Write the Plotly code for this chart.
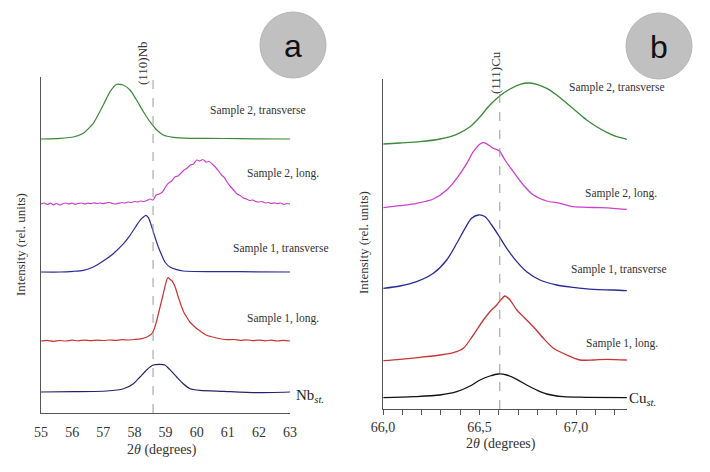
import plotly.graph_objects as go

# ---------------- Panel a : (110) Nb ----------------
a_labels = ["Sample 2, transverse", "Sample 2, long.", "Sample 1, transverse", "Sample 1, long.", "Nb<sub><i>st.</i></sub>"]
a_offsets = [274, 209, 141, 72, 21]

a_s2t_x = [55.0, 55.61, 56.04, 56.36, 56.68, 57.00, 57.22, 57.43, 57.64, 57.86, 58.07, 58.29, 58.50, 58.72, 58.93, 59.25, 59.79, 60.32, 61.39, 63.0]
a_s2t_y = [0, 0.7, 2, 5.7, 15.7, 34, 47.3, 54.7, 54, 49, 39, 27.3, 17.3, 9, 4, 1.7, 0.7, 0.7, 0.3, 0]

a_s2l_x = [55.0, 55.1, 55.2, 55.3, 55.4, 55.5, 55.6, 55.7, 55.8, 55.9, 56.0, 56.1, 56.2, 56.3, 56.4, 56.5, 56.6, 56.7, 56.8, 56.9,
           57.0, 57.1, 57.2, 57.3, 57.4, 57.5, 57.6, 57.7, 57.8, 57.9, 58.0, 58.1, 58.2, 58.3, 58.4, 58.5, 58.6, 58.7, 58.8, 58.9,
           59.0, 59.1, 59.2, 59.3, 59.4, 59.5, 59.6, 59.7, 59.8, 59.9, 60.0, 60.1, 60.2, 60.3, 60.4, 60.5, 60.6, 60.7, 60.8, 60.9,
           61.0, 61.1, 61.2, 61.3, 61.4, 61.5, 61.6, 61.7, 61.8, 61.9, 62.0, 62.1, 62.2, 62.3, 62.4, 62.5, 62.6, 62.7, 62.8, 62.9, 63.0]
a_s2l_y = [0, 1, -0.5, 0.8, -0.8, 0.5, -1, 0.3, 1, 0, 0.8, -0.3, 0.5, 1, 0, 0.8, 0.3, 1.2, 0.5, 1,
           0.3, 1.2, 1.5, 0.5, 0, 0.8, 1.5, 1, 2, 1.5, 2.5, 2, 3, 2.5, 3.5, 5, 4, 9, 10, 12,
           17, 21, 23, 27, 28, 31, 34, 36, 39, 40, 44, 43, 44.5, 42, 42.5, 40, 37, 33, 29, 26,
           21, 17, 13.5, 10, 8.5, 6, 5, 3.5, 4, 2.5, 2, 2.5, 1, 1.5, 0.5, 1.2, 0.3, 1, -0.5, 0.5, 0]

a_s1t_x = [55.0, 55.61, 56.04, 56.36, 56.68, 57.00, 57.32, 57.65, 57.86, 58.07, 58.18, 58.29, 58.37, 58.45, 58.56, 58.66, 58.77, 58.88, 58.98, 59.14, 59.36, 59.57, 60.32, 61.39, 63.0]
a_s1t_y = [0, 0, 0.7, 1.7, 5, 11, 18.3, 28.3, 36.7, 46.7, 51.7, 55, 56.7, 54.3, 45, 35, 25, 16.7, 10, 5, 2.3, 1, 0.3, 0.3, 0]

a_s1l_x = [55.0, 55.2, 55.4, 55.6, 55.8, 56.0, 56.2, 56.4, 56.6, 56.8, 57.0, 57.2, 57.4, 57.6, 57.8, 58.0, 58.2, 58.4, 58.56, 58.66,
           58.77, 58.88, 58.98, 59.05, 59.09, 59.15, 59.2, 59.31, 59.41, 59.52, 59.6, 59.68, 59.78, 59.89, 60.0, 60.11, 60.2, 60.32, 60.45, 60.64,
           60.8, 60.96, 61.2, 61.4, 61.6, 61.8, 62.0, 62.2, 62.4, 62.6, 62.8, 63.0]
a_s1l_y = [0, 0.7, -0.3, 0.5, 0, 0.8, 0.2, 0.9, 0.3, 0.8, 0.5, 1, 0.6, 1.3, 1, 1.5, 2.2, 4, 7.3, 14,
           27, 41, 54, 62, 63.3, 61.5, 60.5, 54, 44, 34, 28, 24, 19, 15.7, 12.5, 10, 8, 5.7, 4.5, 3,
           2, 1.3, 1.5, 0.7, 1.2, 0.3, 0.9, 0.2, 0.8, 0, 0.6, 0]

a_std_x = [55.0, 56.04, 57.11, 57.65, 57.97, 58.18, 58.40, 58.61, 58.82, 58.98, 59.14, 59.36, 59.57, 59.79, 60.11, 60.86, 61.93, 63.0]
a_std_y = [0, 0.3, 1, 3.3, 8.3, 15, 22.3, 27, 27.7, 27, 22.3, 15, 8.3, 3.3, 1.7, 0.7, -0.7, 0]

a_ref = 58.6

# ---------------- Panel b : (111) Cu ----------------
b_labels = ["Sample 2, transverse", "Sample 2, long.", "Sample 1, transverse", "Sample 1, long.", "Cu<sub><i>st.</i></sub>"]
b_offsets = [265, 201, 121, 48, 11]

b_s2t_x = [66.002, 66.088, 66.192, 66.295, 66.382, 66.451, 66.503, 66.554, 66.606, 66.658, 66.710, 66.753, 66.796, 66.848, 66.900, 66.952, 67.004, 67.055, 67.107, 67.159, 67.211, 67.263]
b_s2t_y = [0, 1, 2.3, 5, 9.7, 17.3, 27.3, 39, 48.3, 55, 59.7, 61, 59.7, 55.7, 49, 40.7, 32.3, 24, 17.3, 11.7, 7.3, 4.7]

b_s2l_x = [66.002, 66.088, 66.174, 66.261, 66.330, 66.382, 66.434, 66.468, 66.503, 66.523, 66.546, 66.572, 66.603, 66.632, 66.675, 66.727, 66.779, 66.848, 66.917, 66.986, 67.055, 67.124, 67.193, 67.263]
b_s2l_y = [0.3, 2.3, 4.7, 9, 18, 29.7, 44.7, 56.3, 64, 65.3, 63, 59.7, 57, 48, 36.3, 23, 13, 7, 4.7, 1.3, 0.7, 0.3, -0.3, -1.3]

b_s1t_x = [66.002, 66.088, 66.174, 66.261, 66.330, 66.382, 66.425, 66.459, 66.494, 66.529, 66.563, 66.603, 66.641, 66.693, 66.744, 66.813, 66.900, 66.986, 67.090, 67.193, 67.263]
b_s1t_y = [-0.3, 2, 6.3, 14.7, 28, 44.7, 59.7, 69.7, 73, 71.3, 63, 51.3, 39.7, 26.3, 16.3, 8, 3, 0.7, -1.3, -2, -2.7]

b_s1l_x = [66.002, 66.088, 66.192, 66.295, 66.364, 66.416, 66.468, 66.520, 66.554, 66.589, 66.610, 66.632, 66.658, 66.693, 66.727, 66.779, 66.831, 66.883, 66.952, 67.021, 67.090, 67.159, 67.263]
b_s1l_y = [0.3, 1.7, 3.7, 6, 8.3, 12.7, 26, 41, 49.3, 56, 61, 65, 61, 51, 44.3, 34.3, 22.7, 12.7, 6, 1, 1, 1.7, 1]

b_std_x = [66.002, 66.157, 66.295, 66.382, 66.451, 66.503, 66.554, 66.598, 66.641, 66.693, 66.744, 66.796, 66.848, 66.934, 67.055, 67.263]
b_std_y = [0.3, 1.3, 3, 6.3, 12, 18, 22, 24, 23, 18.7, 13, 8, 4, 1.3, 0.7, 0.3]

b_ref = 66.605

colors_a = ["#3a8a3a", "#cc40cc", "#2a2a9c", "#c83434", "#24246a"]
colors_b = ["#3a8a3a", "#cc40cc", "#2a2a9c", "#c83434", "#111111"]

W, H = 710, 472
def px(x):
    return x / W
def py(y):
    return 1 - y / H

fig = go.Figure()

a_series = [(a_s2t_x, a_s2t_y), (a_s2l_x, a_s2l_y), (a_s1t_x, a_s1t_y), (a_s1l_x, a_s1l_y), (a_std_x, a_std_y)]
for (xs, ys), off, col, name in zip(a_series, a_offsets, colors_a, a_labels):
    fig.add_trace(go.Scatter(x=xs, y=[v + off for v in ys], mode="lines", name=name,
                             line=dict(color=col, width=1.2, shape="spline", smoothing=0.6),
                             xaxis="x", yaxis="y", showlegend=False))

b_series = [(b_s2t_x, b_s2t_y), (b_s2l_x, b_s2l_y), (b_s1t_x, b_s1t_y), (b_s1l_x, b_s1l_y), (b_std_x, b_std_y)]
for (xs, ys), off, col, name in zip(b_series, b_offsets, colors_b, b_labels):
    fig.add_trace(go.Scatter(x=xs, y=[v + off for v in ys], mode="lines", name=name,
                             line=dict(color=col, width=1.3, shape="spline", smoothing=0.8),
                             xaxis="x2", yaxis="y2", showlegend=False))

serif = "Liberation Serif"
axcol = "#555555"
txtcol = "#333333"

fig.update_layout(
    width=W, height=H, margin=dict(l=0, r=0, t=0, b=0, autoexpand=False),
    paper_bgcolor="white", plot_bgcolor="white", separators=", ",
    font=dict(family=serif, color=txtcol),
    xaxis=dict(domain=[px(41), px(290)], range=[55, 63], tick0=55, dtick=1, automargin=False,
               showline=True, linecolor=axcol, linewidth=1, ticks="", showgrid=False, zeroline=False,
               ticklabelstandoff=6,
               tickfont=dict(size=14, family=serif, color=txtcol), anchor="y"),
    yaxis=dict(domain=[py(413), py(77)], range=[0, 336], showline=True, linecolor=axcol, linewidth=1,
               automargin=False, showticklabels=False, ticks="", showgrid=False, zeroline=False, anchor="x"),
    xaxis2=dict(domain=[px(383), px(627)], range=[66.0, 67.264], tick0=66.0, dtick=0.5, tickformat=".1f",
                automargin=False, showline=True, linecolor=axcol, linewidth=1, ticks="outside", ticklen=5,
                tickcolor=axcol, minor=dict(dtick=0.1, tick0=66.0, ticks="outside", ticklen=5, tickcolor=axcol),
                showgrid=False, zeroline=False, tickfont=dict(size=14, family=serif, color=txtcol), anchor="y2"),
    yaxis2=dict(domain=[py(409), py(79)], range=[0, 330], showline=True, linecolor=axcol, linewidth=1,
                automargin=False, showticklabels=False, ticks="", showgrid=False, zeroline=False, anchor="x2"),
)

# reference dashed lines
fig.add_shape(type="line", xref="x", yref="y domain", x0=a_ref, x1=a_ref, y0=0, y1=1,
              line=dict(color="#999999", width=1, dash="dash"))
fig.add_shape(type="line", xref="x2", yref="y2 domain", x0=b_ref, x1=b_ref, y0=0, y1=1,
              line=dict(color="#999999", width=1, dash="dash"))

# panel circles
for cx, cy in [(293, 45), (659, 46)]:
    fig.add_shape(type="circle", xref="paper", yref="paper",
                  x0=px(cx - 33), x1=px(cx + 33), y0=py(cy + 33), y1=py(cy - 33),
                  fillcolor="#c0c0c0", line=dict(color="#b5b5b5", width=1))

ann = []
ann.append(dict(x=px(293), y=py(46), text="a", font=dict(family="Liberation Sans", size=32, color="#111111")))
ann.append(dict(x=px(659), y=py(47), text="b", font=dict(family="Liberation Sans", size=32, color="#111111")))

# sample labels
a_lab_pos = [(258, 110), (283, 173), (281, 248), (283, 318)]
for (x, y), t in zip(a_lab_pos, a_labels[:4]):
    ann.append(dict(x=px(x), y=py(y), text=t, font=dict(size=11.5, family=serif, color=txtcol)))
ann.append(dict(x=px(294), y=py(396), text=a_labels[4], xanchor="left", font=dict(size=15, family=serif, color="#222222")))

b_lab_pos = [(617, 88), (621, 193), (619, 269), (622, 343)]
for (x, y), t in zip(b_lab_pos, b_labels[:4]):
    ann.append(dict(x=px(x), y=py(y), text=t, font=dict(size=11.5, family=serif, color=txtcol)))
ann.append(dict(x=px(627), y=py(399), text=b_labels[4], xanchor="left", font=dict(size=15, family=serif, color="#222222")))

# peak reference labels
ann.append(dict(x=px(143), y=py(63), text="(110)Nb", textangle=-90, font=dict(size=13, family=serif, color=txtcol)))
ann.append(dict(x=px(495), y=py(72), text="(111)Cu", textangle=-90, font=dict(size=13, family=serif, color=txtcol)))

# axis titles
ann.append(dict(x=px(162), y=py(450), text="2<i>θ</i> (degrees)", font=dict(size=14, family=serif, color=txtcol)))
ann.append(dict(x=px(501), y=py(444), text="2<i>θ</i> (degrees)", font=dict(size=14, family=serif, color=txtcol)))
ann.append(dict(x=px(21), y=py(245), text="Intensity (rel. units)", textangle=-90, font=dict(size=13, family=serif, color=txtcol)))
ann.append(dict(x=px(364), y=py(243), text="Intensity (rel. units)", textangle=-90, font=dict(size=13, family=serif, color=txtcol)))

for a in ann:
    a.update(xref="paper", yref="paper", showarrow=False)
    a.setdefault("xanchor", "center")
    a.setdefault("yanchor", "middle")
fig.update_layout(annotations=ann)

fig.write_html("out.html", config={"displayModeBar": False},
               post_script="document.body.style.margin='0';")
